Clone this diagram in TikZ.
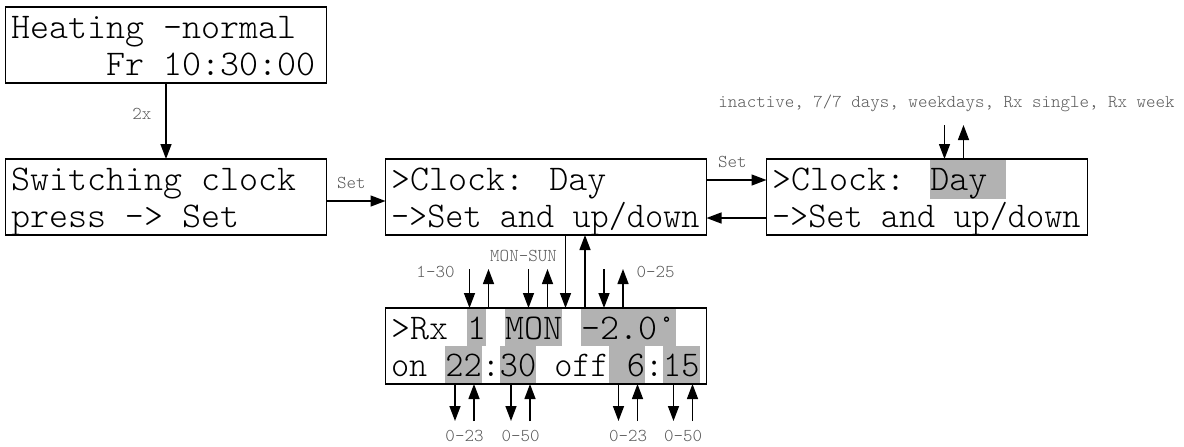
\documentclass[tikz,border=0pt]{standalone}
\usepackage{fontspec}
\usepackage{graphicx}
\usetikzlibrary{positioning}
\usetikzlibrary{arrows.meta}
\definecolor{fieldgray}{gray}{0.70}
% one display row: 15pt above the baseline, 3.5pt below
\newcommand{\lcdstrut}{\rule[-3.5pt]{0pt}{18.5pt}}
\newcommand{\row}[1]{\lcdstrut\smash{#1}}
\newcommand{\field}[1]{{\setlength{\fboxsep}{0pt}\colorbox{fieldgray}{\lcdstrut#1}}}
% 17 characters on a 16 character display
\newcommand{\tight}[1]{\scalebox{0.955}[1]{#1}}
\tikzset{%
  lcd/.style = {rectangle,draw,line width=0.7pt,minimum height=38pt,
        text width=155pt,inner xsep=2.75pt,inner ysep=0.5pt,outer sep=0pt,
        align=flush left,
        font=\ttfamily\fontseries{l}\fontsize{18.1pt}{18.5pt}\selectfont},
  keyarrow/.style = {-{Triangle[length=7.5pt,width=5.5pt]},line width=0.7pt},
  hint/.style = {font=\ttfamily\fontseries{l}\fontsize{9.05pt}{10pt}\selectfont,
        text=black!65,inner sep=0pt}
}

\begin{document}
\begin{tikzpicture}[x=0.5pt,y=-0.5pt]
   \useasboundingbox (0,0) rectangle (1184,446);
   \node[lcd] (heating) at (166,45)
      {\row{Heating -normal}\\\row{\hspace*{2.625em}Fr 10:30:00}};
   \node[lcd] (switching) [below=38pt of heating]
      {\row{Switching clock}\\\row{press -> Set}};
   \node[lcd] (clockset) [right=29.5pt of switching]
      {\row{>Clock: Day}\\\row{\tight{->Set and up/down}}};
   \node[lcd] (clockmode) [right=30pt of clockset]
      {\row{>Clock: \field{Day\ }}\\\row{\tight{->Set and up/down}}};
   \node[lcd] (program) [below=36.5pt of clockset]
      {\row{>Rx \field{1} \field{MON} \field{-2.0°}}\\
       \row{\tight{on \field{22}:\field{30} off\field{\ 6}:\field{15}}}};

   % menu keys
   \draw[keyarrow] (heating.south) -- (heating.south |- switching.north)
      node[hint, pos=0.41, left=7pt] {2x};
   \draw[keyarrow] ([yshift=-2pt]switching.east) -- ([yshift=-2pt]clockset.west)
      node[hint, pos=0.42, yshift=9pt] {Set};
   \draw[keyarrow] ([yshift=8.5pt]clockset.east) -- ([yshift=8.5pt]clockmode.west)
      node[hint, pos=0.43, yshift=9pt] {Set};
   \draw[keyarrow] ([yshift=-10.5pt]clockmode.west) -- ([yshift=-10.5pt]clockset.east);

   % up/down on the mode
   \coordinate (mode-down) at ([shift={(178,-34)}]clockmode.north west);
   \coordinate (mode-up) at ([shift={(197,-34)}]clockmode.north west);
   \draw[keyarrow] (mode-down) -- (mode-down |- clockmode.north);
   \draw[keyarrow] (mode-up |- clockmode.north) -- (mode-up);
   \node[hint] (modes) at ([shift={(180,-56)}]clockmode.north west)
      {inactive, 7/7 days, weekdays, Rx single, Rx week};

   % into the program and back
   \coordinate (enter) at ([shift={(180,0)}]program.north west);
   \coordinate (leave) at ([shift={(199.5,0)}]program.north west);
   \draw[keyarrow] (enter |- clockset.south) -- (enter);
   \draw[keyarrow] (leave) -- (leave |- clockset.south);

   % up/down on the fields
   \foreach \dx [count=\i] in {84,143,218.5} {
      \coordinate (top-down\i) at ([shift={(\dx,-39)}]program.north west);
      \coordinate (top-up\i) at ([shift={(\dx+19,-39)}]program.north west);
      \draw[keyarrow] (top-down\i) -- (top-down\i |- program.north);
      \draw[keyarrow] (top-up\i |- program.north) -- (top-up\i);
   }
   \foreach \dx/\range [count=\i] in {69.5/0-23,125.5/0-50,233/0-23,288/0-50} {
      \coordinate (bot-down\i) at ([shift={(\dx,37)}]program.south west);
      \coordinate (bot-up\i) at ([shift={(\dx+19,37)}]program.south west);
      \draw[keyarrow] (bot-down\i |- program.south) -- (bot-down\i);
      \draw[keyarrow] (bot-up\i) -- (bot-up\i |- program.south);
      \node[hint] (range\i) at ([shift={(\dx+9.5,52)}]program.south west) {\range};
   }
   \node[hint] (rx-range) at ([shift={(50,-36)}]program.north west) {1-30};
   \node[hint] (day-range) at ([shift={(138,-52)}]program.north west) {MON-SUN};
   \node[hint] (temp-range) at ([shift={(270,-36)}]program.north west) {0-25};
\end{tikzpicture}
\end{document}
